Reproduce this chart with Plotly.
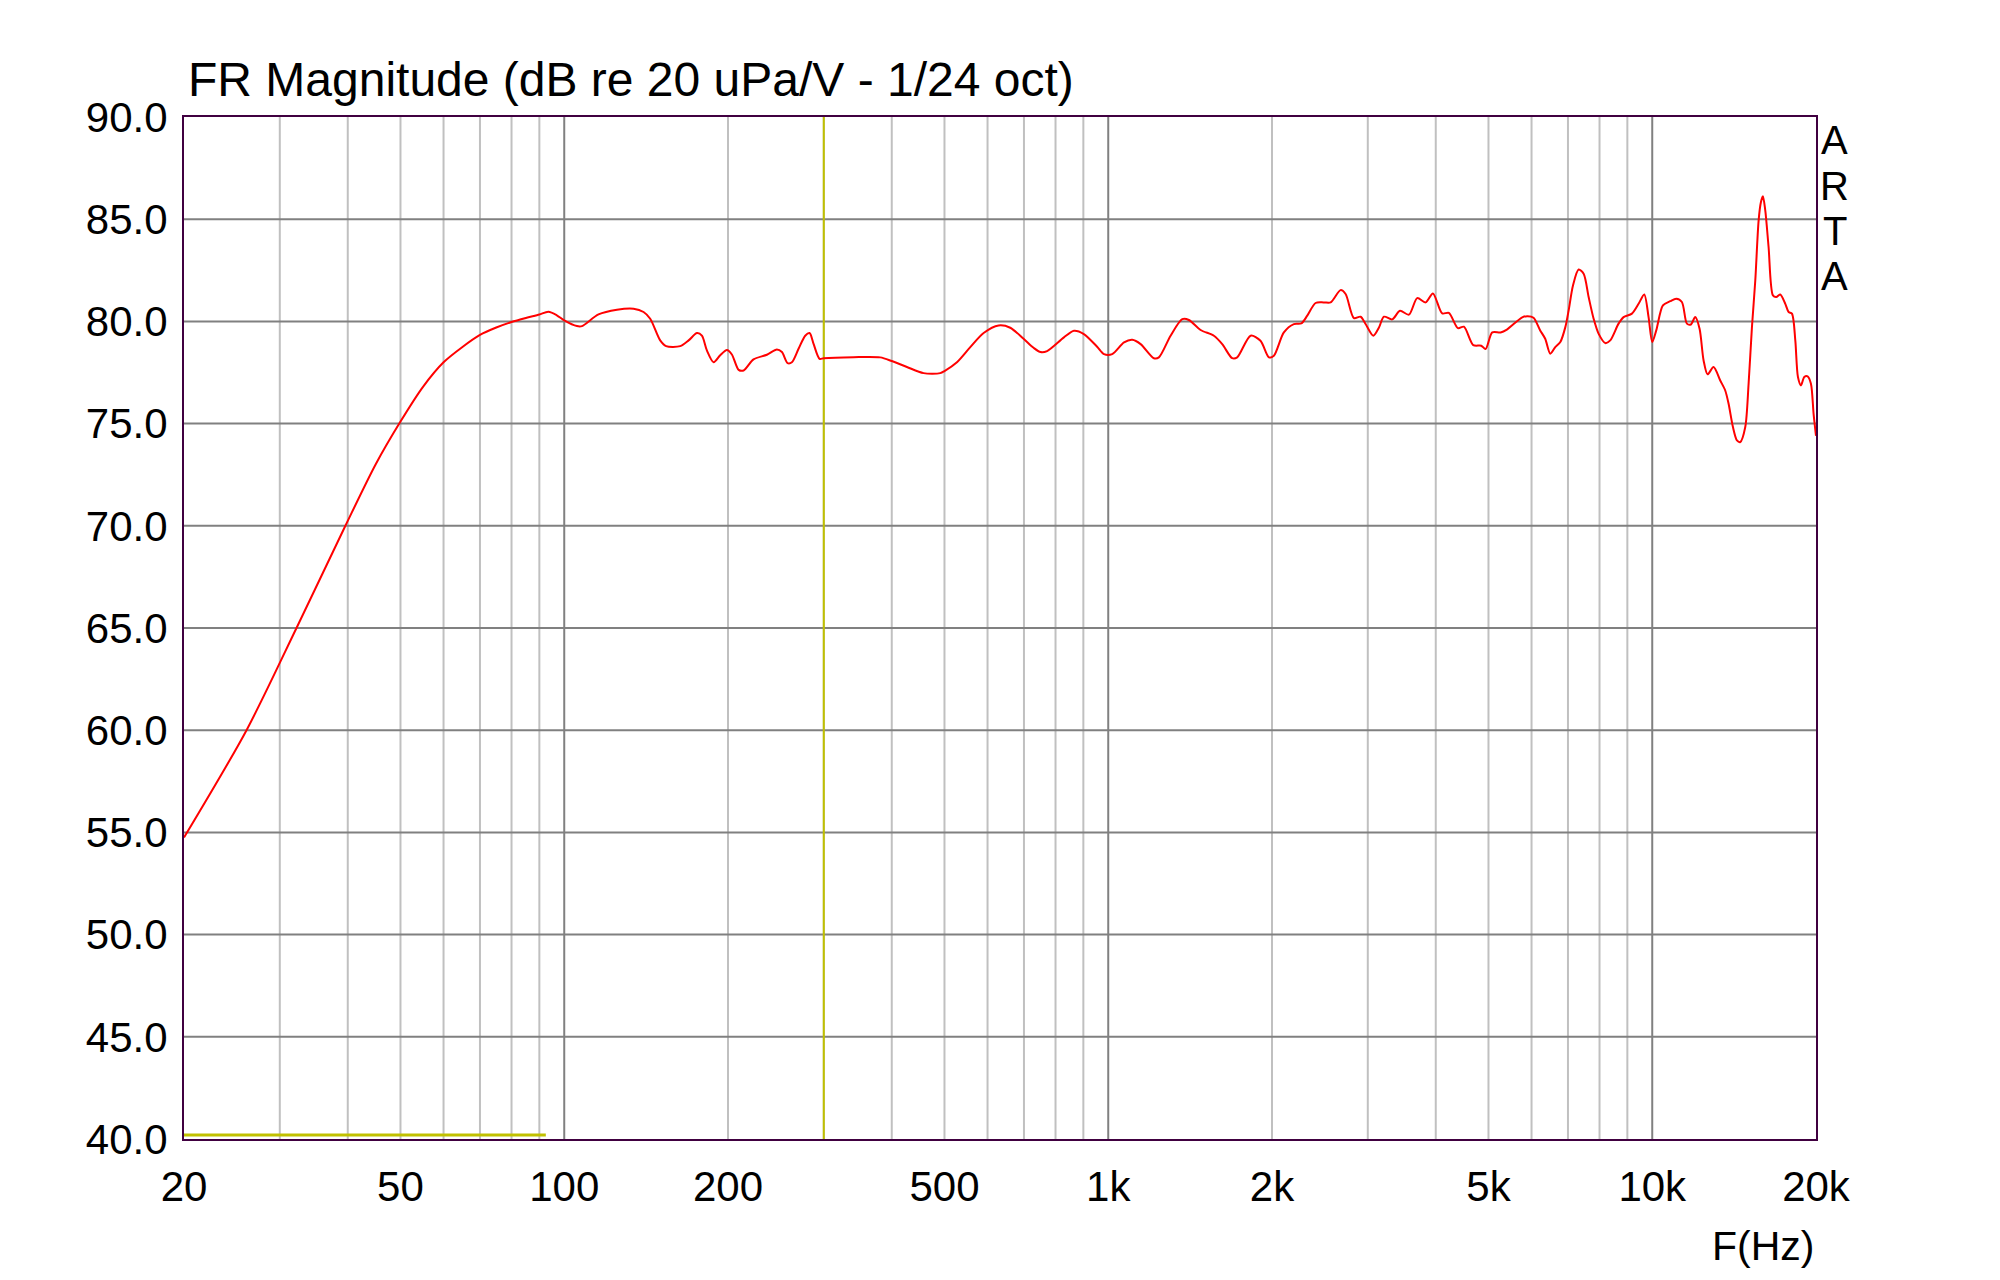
import math
import plotly.graph_objects as go

# ---------------- data ----------------
freq_hz = [20, 26.06, 32.2, 39.6, 45, 50, 55, 60, 65, 70, 75, 80, 85, 90, 93.5,
           96.9, 100, 105.5, 107.8, 115.6, 125, 134.1, 139.9, 143.9, 150.1, 153.9, 163.4, 169.3, 175.4,
           179.1, 182.9, 188.2, 193.5, 199.1, 203.3, 209.2, 213.7, 222.8, 235.8, 246, 251.3, 257.3,
           262.1, 269.6, 277.3, 282.5, 287.3, 294.7, 300, 340.4, 380.9, 400, 426.5, 457.6, 491.1, 500,
           527.1, 557.7, 590.1, 628.7, 660.5, 698.8, 729, 751, 772, 829, 865, 902, 954, 982, 1017, 1069,
           1107, 1147, 1213, 1239, 1302, 1368, 1407, 1478, 1564, 1620, 1690, 1726, 1827, 1905, 1974,
           2016, 2103, 2194, 2264, 2322, 2405, 2491, 2563, 2673, 2731, 2829, 2910, 2972, 3070, 3145,
           3212, 3327, 3438, 3571, 3698, 3831, 3952, 4111, 4228, 4393, 4506, 4688, 4850, 4939, 5081,
           5263, 5405, 5768, 5900, 6050, 6223, 6357, 6494, 6633, 6777, 6922, 7020, 7150, 7323, 7480,
           7640, 7803, 7968, 8196, 8372, 8671, 8858, 9176, 9438, 9667, 9846, 10000, 10171, 10462,
           10792, 11069, 11337, 11580, 11778, 11995, 12218, 12428, 12640, 12964, 13335, 13620, 13815,
           14072, 14312, 14517, 14825, 15036, 15250, 15467, 15688, 15843, 15975, 16135, 16363, 16667,
           16904, 17194, 17562, 17811, 18064, 18322, 18529, 18766, 19032, 19302, 19576, 19797, 20000]
level_db = [54.75, 60.0, 65.0, 70.0, 73.0, 75.1, 76.8, 78.0, 78.75, 79.34, 79.7, 79.97, 80.17, 80.34,
            80.47,
            80.3, 80.05, 79.77, 79.77, 80.34, 80.57, 80.62, 80.46, 80.13, 79.07, 78.79, 78.79, 79.07,
            79.43, 79.3, 78.58, 78.0, 78.34, 78.6, 78.38, 77.63, 77.6, 78.14, 78.37, 78.63, 78.5, 77.96,
            78.0, 78.66, 79.3, 79.43, 78.9, 78.17, 78.2, 78.25, 78.24, 78.06, 77.77, 77.47, 77.47, 77.57,
            78.0, 78.74, 79.43, 79.8, 79.69, 79.15, 78.71, 78.5, 78.55, 79.22, 79.54, 79.38, 78.76, 78.4,
            78.4, 78.97, 79.1, 78.89, 78.2, 78.24, 79.3, 80.11, 80.07, 79.58, 79.3, 78.89, 78.2, 78.24,
            79.3, 79.05, 78.24, 78.32, 79.46, 79.87, 79.9, 80.28, 80.9, 80.93, 80.93, 81.53, 81.34,
            80.16, 80.23, 79.87, 79.3, 79.7, 80.23, 80.1, 80.52, 80.33, 81.14, 80.93, 81.37, 80.39,
            80.42, 79.67, 79.74, 78.84, 78.81, 78.65, 79.46, 79.46, 79.6, 80.2, 80.25, 80.18, 79.56,
            79.15, 78.42, 78.74, 78.99, 79.72, 80.54, 81.76, 82.54, 82.33, 81.19, 80.13, 79.4, 78.94,
            79.07, 79.89, 80.21, 80.38, 80.86, 81.32, 80.21, 78.99, 79.56, 80.78, 80.99, 81.11, 80.95,
            79.89, 79.85, 80.21, 79.64, 78.09, 77.41, 77.77, 77.11, 76.62, 75.97, 74.83, 74.18, 74.1,
            74.83, 76.95, 79.72, 82.0, 84.94, 85.84, 86.12, 85.43, 83.64, 81.27, 81.19, 81.32, 80.86,
            80.46, 80.38, 79.07, 77.28, 76.87, 77.28, 77.31, 76.95, 75.48, 74.4]

x_tick_vals = [20, 50, 100, 200, 500, 1000, 2000, 5000, 10000, 20000]
x_tick_text = ['20', '50', '100', '200', '500', '1k', '2k', '5k', '10k', '20k']
y_tick_vals = [40, 45, 50, 55, 60, 65, 70, 75, 80, 85, 90]
y_tick_text = ['40.0', '45.0', '50.0', '55.0', '60.0', '65.0', '70.0', '75.0', '80.0', '85.0', '90.0']

cursor_freq_hz = 300
low_marker_freq = [20, 92.5]
low_marker_db = [40.2, 40.2]

title_text = 'FR Magnitude (dB re 20 uPa/V - 1/24 oct)'
x_label = 'F(Hz)'
brand_letters = ['A', 'R', 'T', 'A']

# ---------------- styling ----------------
FONT = 'Liberation Sans, Arial, sans-serif'
F_MIN, F_MAX = 20, 20000
DB_MIN, DB_MAX = 40, 90

fig = go.Figure()

fig.add_trace(go.Scatter(x=[cursor_freq_hz, cursor_freq_hz], y=[DB_MIN, DB_MAX], mode='lines',
                         line=dict(color='#c0c000', width=2), hoverinfo='skip'))
fig.add_trace(go.Scatter(x=low_marker_freq, y=low_marker_db, mode='lines',
                         line=dict(color='#c0c000', width=3), hoverinfo='skip'))
fig.add_trace(go.Scatter(x=freq_hz, y=level_db, mode='lines',
                         line=dict(color='#ff0000', width=2, shape='spline', smoothing=0.8)))

shapes = []
# vertical grid: minor then major
for major in (False, True):
    for dec in (10, 100, 1000, 10000):
        for m in range(1, 10):
            f = dec * m
            if f <= F_MIN or f >= F_MAX:
                continue
            if (m == 1) != major:
                continue
            shapes.append(dict(type='line', xref='x', yref='paper', x0=f, x1=f, y0=0, y1=1,
                               line=dict(color='#808080' if major else '#c0c0c0', width=2),
                               layer='below'))
for v in y_tick_vals[1:-1]:
    shapes.append(dict(type='line', xref='paper', yref='y', x0=0, x1=1, y0=v, y1=v,
                       line=dict(color='#808080', width=2), layer='below'))

axis_common = dict(showgrid=False, zeroline=False, showline=True, mirror=True,
                   linecolor='#400040', linewidth=2, ticks='',
                   tickfont=dict(family=FONT, size=42, color='black'))

# page body has an 8px margin, so the figure is 16px smaller than the window
fig.update_layout(
    width=1984, height=1264,
    margin=dict(l=176, r=176, t=109, b=133),
    paper_bgcolor='white', plot_bgcolor='white',
    showlegend=False,
    shapes=shapes,
    xaxis=dict(type='log', range=[math.log10(F_MIN), math.log10(F_MAX)],
               tickvals=x_tick_vals, ticktext=x_tick_text, ticklabelstandoff=10, **axis_common),
    yaxis=dict(range=[DB_MIN, DB_MAX], tickvals=y_tick_vals, ticktext=y_tick_text,
               ticklabelstandoff=6, **axis_common),
)

ann = [
    dict(text=title_text, xref='paper', yref='paper', x=0.0, xshift=2, y=1.037, xanchor='left',
         yanchor='middle', showarrow=False, font=dict(family=FONT, size=48, color='black')),
    dict(text=x_label, xref='paper', yref='paper', x=1.0, y=-0.1047, xanchor='right',
         yanchor='middle', showarrow=False, font=dict(family=FONT, size=41, color='black')),
]
brand_y = [0.9775, 0.9325, 0.8885, 0.8444]
for letter, yy in zip(brand_letters, brand_y):
    ann.append(dict(text=letter, xref='paper', yref='paper', x=1.0116, y=yy, xanchor='center',
                    yanchor='middle', showarrow=False, font=dict(family=FONT, size=40, color='black')))
fig.update_layout(annotations=ann)

fig.write_html('out.html')
